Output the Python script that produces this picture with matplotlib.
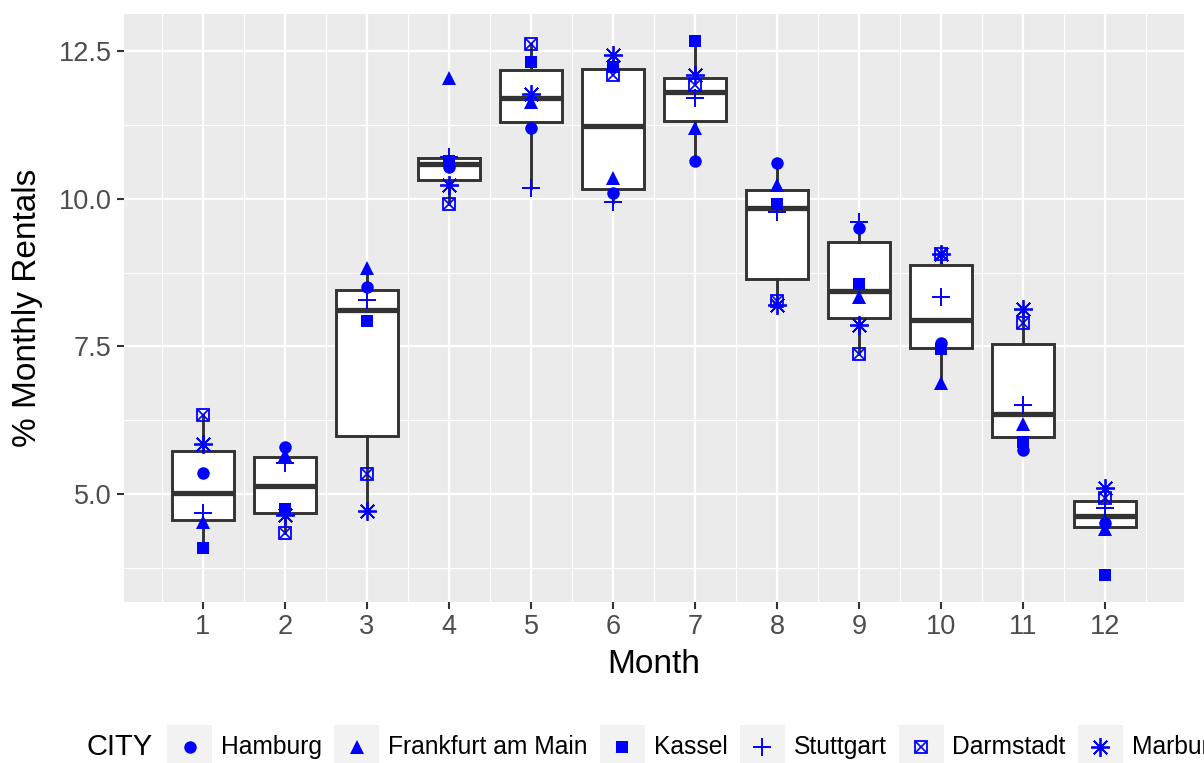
import matplotlib
matplotlib.use("Agg")
import matplotlib.pyplot as plt
from matplotlib.patches import Rectangle
from matplotlib.ticker import FormatStrFormatter

# % of yearly rentals per month, one list per city
months = list(range(1, 13))
cities = ["Hamburg", "Frankfurt am Main", "Kassel", "Stuttgart", "Darmstadt", "Marburg"]
hamburg   = [5.36, 5.80, 8.51, 10.54, 11.19, 10.10, 10.63, 10.61, 9.50, 7.55, 5.75, 4.52]
frankfurt = [4.53, 5.66, 8.82, 12.04, 11.64, 10.35, 11.19, 10.23, 8.34, 6.88, 6.19, 4.42]
kassel    = [4.09, 4.75, 7.93, 10.63, 12.31, 12.23, 12.67, 9.91, 8.55, 7.45, 5.89, 3.63]
stuttgart = [4.68, 5.53, 8.29, 10.70, 10.18, 9.95, 11.70, 9.78, 9.61, 8.34, 6.51, 4.76]
darmstadt = [6.34, 4.34, 5.34, 9.91, 12.61, 12.09, 11.92, 8.27, 7.37, 9.07, 7.89, 4.93]
marburg   = [5.85, 4.65, 4.71, 10.23, 11.77, 12.43, 12.09, 8.20, 7.86, 9.06, 8.13, 5.10]
rentals = [hamburg, frankfurt, kassel, stuttgart, darmstadt, marburg]

plt.rcParams['font.family'] = ['Liberation Sans', 'DejaVu Sans']

BLUE = '#0000FF'
DARK = '#333333'


def draw_marker(target, x, y, city, **kw):
    # ggplot-like shapes: 16, 17, 15, 3, 7, 8
    if city == "Hamburg":
        target.plot(x, y, 'o', color=BLUE, ms=9, mew=0, **kw)
    elif city == "Frankfurt am Main":
        target.plot(x, y, '^', color=BLUE, ms=10.5, mew=0, **kw)
    elif city == "Kassel":
        target.plot(x, y, 's', color=BLUE, ms=8.5, mew=0, **kw)
    elif city == "Stuttgart":
        target.plot(x, y, '+', color=BLUE, ms=13, mew=1.4, **kw)
    elif city == "Darmstadt":
        target.plot(x, y, 's', color=BLUE, mfc='none', ms=8.5, mew=1.3, **kw)
        target.plot(x, y, 'x', color=BLUE, ms=6.5, mew=1.2, **kw)
    else:
        target.plot(x, y, marker=(8, 2, 0), ls='none', color=BLUE, ms=13.5, mew=1.3, **kw)


W, H = 1204, 763
fig = plt.figure(figsize=(W / 100, H / 100), dpi=100)
ax = fig.add_axes([124 / W, 1 - 602 / H, 1060 / W, 588 / H])
ax.set_facecolor('#EBEBEB')

by_month = [[r[i] for r in rentals] for i in range(len(months))]
ax.boxplot(by_month, positions=months, widths=0.75, showfliers=False, showcaps=False,
           patch_artist=True, manage_ticks=False,
           boxprops=dict(facecolor='white', edgecolor=DARK, linewidth=2.1),
           medianprops=dict(color=DARK, linewidth=3.8, solid_capstyle='butt'),
           whiskerprops=dict(color=DARK, linewidth=2.1))

for city, vals in zip(cities, rentals):
    draw_marker(ax, months, vals, city, zorder=4)

# scale expansion like ggplot (5 %)
allv = [v for r in rentals for v in r]
lo, hi = min(allv), max(allv)
pad = (hi - lo) * 0.05
ax.set_ylim(lo - pad, hi + pad)
xlo, xhi = months[0] - 0.375, months[-1] + 0.375
xpad = (xhi - xlo) * 0.05
ax.set_xlim(xlo - xpad, xhi + xpad)

ax.set_xticks(months)
ax.set_xticks([m - 0.5 for m in months] + [months[-1] + 0.5], minor=True)
ax.set_yticks([5.0, 7.5, 10.0, 12.5])
ax.set_yticks([3.75, 6.25, 8.75, 11.25], minor=True)
ax.yaxis.set_major_formatter(FormatStrFormatter('%.1f'))
ax.grid(which='major', color='white', linewidth=1.6)
ax.grid(which='minor', color='white', linewidth=0.8)
ax.set_axisbelow(True)
ax.tick_params(which='major', length=5, width=1.5, color=DARK, labelcolor='#4D4D4D',
               labelsize=19.5, pad=4)
ax.tick_params(which='minor', length=0)
for s in ax.spines.values():
    s.set_visible(False)

ax.set_xlabel('Month', fontsize=24, labelpad=6)
ax.set_ylabel('% Monthly Rentals', fontsize=24, labelpad=11)

# legend at the bottom, laid out by hand in pixel coords (runs past the right edge)
lg = fig.add_axes([0, 0, 1, 1], zorder=5)
lg.set_xlim(0, W)
lg.set_ylim(H, 0)
lg.axis('off')
lg.patch.set_visible(False)
renderer = fig.canvas.get_renderer()
yc = 747
x = 87
t = lg.text(x, yc, 'CITY', fontsize=21, va='center', ha='left')
x += t.get_window_extent(renderer).width + 14
key = 45
for city in cities:
    lg.add_patch(Rectangle((x, yc - key / 2), key, key, facecolor='#F2F2F2',
                           edgecolor='none', clip_on=False))
    draw_marker(lg, [x + key / 2], [yc], city, clip_on=False)
    x += key + 9
    t = lg.text(x, yc, city, fontsize=17.7, va='center', ha='left')
    x += t.get_window_extent(renderer).width + 12

fig.savefig('out.png', dpi=100)
